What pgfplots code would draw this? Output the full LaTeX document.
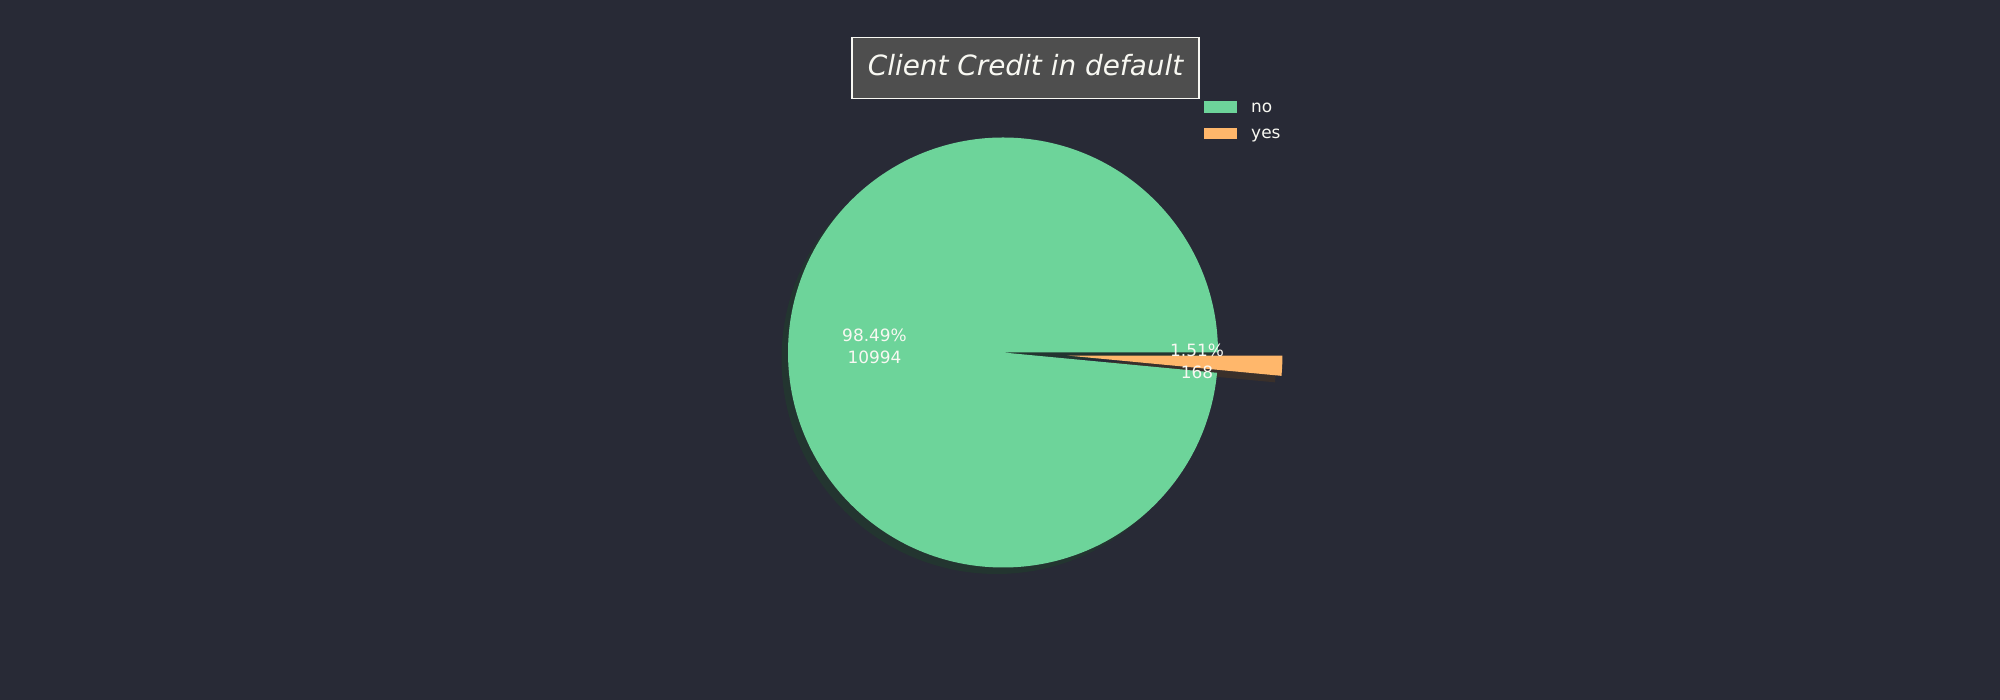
\documentclass[border=0pt]{standalone}
\usepackage{pgfplots}
\pgfplotsset{compat=1.18}
\usepackage{fontspec}
\setmainfont{DejaVu Sans}
\definecolor{bg}{HTML}{282A36}
\definecolor{cno}{RGB}{109,212,154}
\definecolor{cyes}{RGB}{255,183,107}
\definecolor{sno}{RGB}{35,53,48}
\definecolor{syes}{RGB}{58,48,43}
\definecolor{fg}{HTML}{F8F8F2}
\definecolor{titlebg}{RGB}{78,78,78}
% data
\def\nNo{10994}
\def\nYes{168}
\begin{document}
\begin{tikzpicture}[x=1bp,y=1bp]
\pgfmathsetmacro\tot{\nNo+\nYes}
\pgfmathsetmacro\aNo{360*(\nNo/\tot)}
\pgfmathsetmacro\mYes{(\aNo+360)/2}
\fill[bg] (0,0) rectangle (2000,700);
\begin{axis}[at={(0,0)}, anchor=south west, scale only axis,
  width=2000bp, height=700bp, xmin=0, xmax=2000, ymin=0, ymax=700,
  hide axis, clip=false]
% shadows
\fill[sno, shift={(-6.5bp,-6.5bp)}] (axis cs:1003,347.5) -- ++(0:215bp) arc[start angle=0, end angle=\aNo, radius=215bp] -- cycle;
\fill[syes, shift={(-6.5bp,-6.5bp)}] (axis cs:1003,347.5) ++(\mYes:64.5bp) -- ++(\aNo:215bp) arc[start angle=\aNo, end angle=360, radius=215bp] -- cycle;
% wedges
\fill[cno] (axis cs:1003,347.5) -- ++(0:215bp) arc[start angle=0, end angle=\aNo, radius=215bp] -- cycle;
\fill[cyes] (axis cs:1003,347.5) ++(\mYes:64.5bp) -- ++(\aNo:215bp) arc[start angle=\aNo, end angle=360, radius=215bp] -- cycle;
% labels
\node[text=fg, align=center, font=\fontsize{17}{22}\selectfont, inner sep=0pt] at (axis cs:874.5,354) {98.49\%\\10994};
\node[text=fg, align=center, font=\fontsize{17}{22}\selectfont, inner sep=0pt] at (axis cs:1197,338.3) {1.51\%\\168};
% title
\draw[fill=titlebg, draw=fg, line width=1.5bp] (axis cs:852,662.5) rectangle (axis cs:1199,601.7);
\node[text=fg, anchor=base, font=\fontsize{28}{34}\selectfont\itshape, inner sep=0pt] at (axis cs:1025.5,624.3) {Client Credit in default};
% legend
\fill[cno] (axis cs:1203.5,599.3) rectangle (axis cs:1237,587.3);
\fill[cyes] (axis cs:1203.5,572.3) rectangle (axis cs:1237,561.3);
\node[text=fg, anchor=base west, font=\fontsize{17}{20}\selectfont, inner sep=0pt] at (axis cs:1251,587.5) {no};
\node[text=fg, anchor=base west, font=\fontsize{17}{20}\selectfont, inner sep=0pt] at (axis cs:1251,561) {yes};
\end{axis}
\end{tikzpicture}
\end{document}
